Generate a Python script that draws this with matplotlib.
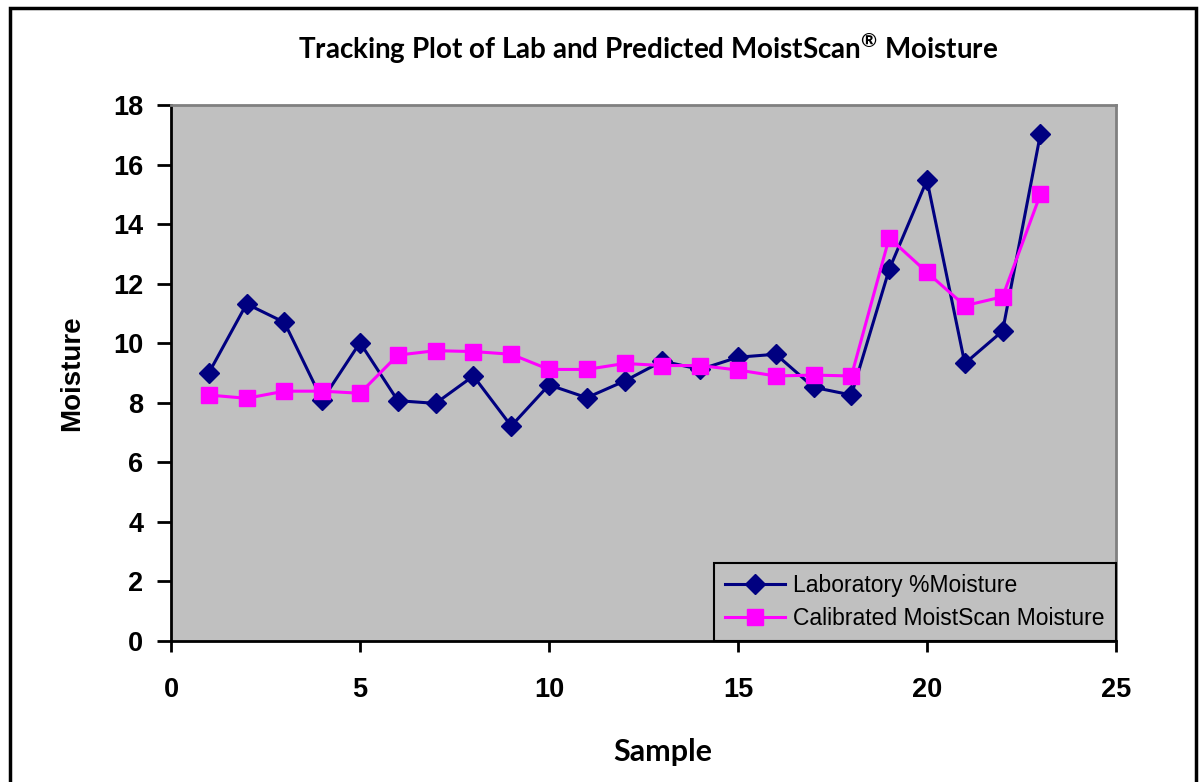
import matplotlib.pyplot as plt
from matplotlib.patches import Rectangle

# Data
samples = list(range(1, 24))
lab_moisture = [9.0, 11.32, 10.70, 8.09, 10.02, 8.07, 7.98, 8.90, 7.22, 8.60,
                8.17, 8.73, 9.40, 9.12, 9.53, 9.63, 8.52, 8.26, 12.48, 15.48,
                9.32, 10.41, 17.02]
cal_moisture = [8.26, 8.15, 8.39, 8.39, 8.32, 9.60, 9.75, 9.72, 9.63, 9.12,
                9.12, 9.32, 9.25, 9.25, 9.10, 8.90, 8.93, 8.90, 13.54, 12.38,
                11.26, 11.56, 15.0]
x_ticks = [0, 5, 10, 15, 20, 25]
y_ticks = [0, 2, 4, 6, 8, 10, 12, 14, 16, 18]

plt.rcParams['mathtext.fontset'] = 'custom'
plt.rcParams['mathtext.rm'] = 'Lato:bold'
plt.rcParams['mathtext.bf'] = 'Lato:bold'

fig = plt.figure(figsize=(12.03, 7.82), dpi=100)

# outer frame around the whole chart
fig.patches.append(Rectangle((10 / 1203, -0.05), 1186 / 1203, 1.05 - 8 / 782,
                             transform=fig.transFigure, fill=False,
                             edgecolor='black', linewidth=2.5))

ax = fig.add_axes([171 / 1203, 1 - 641 / 782, 945 / 1203, 536 / 782])
ax.set_facecolor('#c0c0c0')

ax.plot(samples, lab_moisture, color='#000080', marker='D', markersize=10,
        linewidth=2.2, label='Laboratory %Moisture', clip_on=False)
ax.plot(samples, cal_moisture, color='#ff00ff', marker='s', markersize=11,
        linewidth=2.2, label='Calibrated MoistScan Moisture', clip_on=False)

ax.set_xlim(0, 25)
ax.set_ylim(0, 18)
ax.set_xticks(x_ticks)
ax.set_yticks(y_ticks)

tick_font = {'family': 'Liberation Sans', 'weight': 'bold', 'size': 19.5}
ax.set_xticklabels([str(t) for t in x_ticks], fontdict=tick_font)
ax.set_yticklabels([str(t) for t in y_ticks], fontdict=tick_font)
ax.tick_params(axis='x', direction='out', length=8, width=2, pad=18)
ax.tick_params(axis='y', direction='out', length=10, width=2, pad=10)

for side in ['left', 'bottom']:
    ax.spines[side].set_color('black')
    ax.spines[side].set_linewidth(2)
for side in ['top', 'right']:
    ax.spines[side].set_color('#808080')
    ax.spines[side].set_linewidth(2)

ax.set_ylabel('Moisture', family='Liberation Sans', weight='bold', size=20,
              labelpad=20)
ax.set_xlabel('Sample', family='Lato', weight='bold', size=22, va='center')
ax.xaxis.set_label_coords(0.52, -0.207)

fig.text(0.539, 0.938, r'Tracking Plot of Lab and Predicted MoistScan$^{®}$ Moisture',
         ha='center', va='center', family='Lato', weight='bold', size=20)

leg = ax.legend(loc='lower right', bbox_to_anchor=(1.0, 0.0), frameon=True,
                fancybox=False, facecolor='#c0c0c0', edgecolor='black',
                framealpha=1, borderaxespad=0, borderpad=0.5,
                prop={'family': 'Liberation Sans', 'size': 16.5},
                handlelength=2.6, handletextpad=0.35, labelspacing=0.4)
leg.get_frame().set_linewidth(1.5)

fig.savefig('out.png', dpi=100)
